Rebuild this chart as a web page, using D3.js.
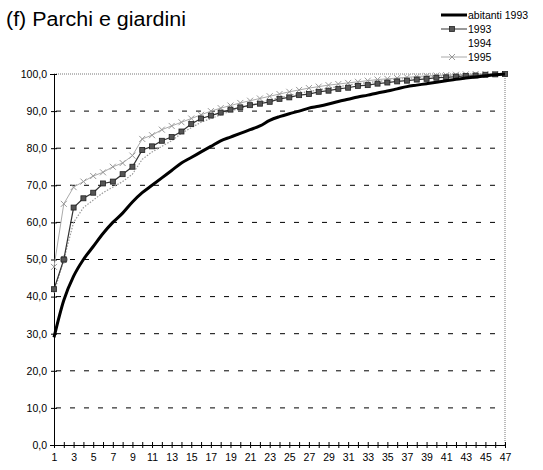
<!DOCTYPE html>
<html>
<head>
<meta charset="utf-8">
<script src="https://cdn.jsdelivr.net/npm/d3@7"></script>
<style>
  body { margin: 0; background: #fff; }
  svg { font-family: Arial, "Liberation Sans", sans-serif; }
</style>
</head>
<body>
<div id="chart"></div>
<script>
// Categories (1..47) and cumulative percentages
let categories = d3.range(1, 48);

let abitanti1993 = [29, 39, 45.5, 50, 53.5, 57, 60, 62.5, 65.5, 68,
    70, 72, 74, 76, 77.5, 79, 80.5, 82, 83, 84,
    85, 86, 87.5, 88.5, 89.3, 90, 90.8, 91.3, 91.9, 92.6,
    93.2, 93.8, 94.3, 94.9, 95.4, 96, 96.6, 97, 97.4, 97.8,
    98.2, 98.6, 98.9, 99.2, 99.5, 99.8, 100];

let y1993 = [42, 50, 64, 66.5, 68, 70.5, 71, 73, 75, 79.5,
    80.5, 82, 83, 84.5, 86.5, 88, 88.8, 89.6, 90.4, 91,
    91.6, 92, 92.5, 93.3, 93.7, 94.3, 94.6, 95.2, 95.5, 96,
    96.3, 96.8, 97, 97.4, 97.7, 98, 98.2, 98.5, 98.7, 99,
    99.1, 99.3, 99.5, 99.6, 99.8, 99.9, 100];

let y1994 = [41, 50, 60, 64, 66, 68, 69.5, 71, 73, 77,
    79, 80.5, 82, 84, 85.5, 87, 88, 89, 90, 90.8,
    91.5, 92.3, 93, 93.6, 94.2, 94.8, 95.3, 95.7, 96.2, 96.6,
    97, 97.4, 97.7, 98, 98.3, 98.6, 98.8, 99, 99.2, 99.4,
    99.5, 99.6, 99.7, 99.8, 99.9, 100, 100];

let y1995 = [48, 65, 69.5, 71, 72.5, 73.5, 75, 76, 78, 82.5,
    83.5, 85, 86, 87, 88, 89, 90, 90.8, 91.5, 92.2,
    92.8, 93.4, 94, 94.6, 95.2, 95.7, 96.2, 96.6, 97, 97.3,
    97.6, 97.9, 98.2, 98.5, 98.7, 98.9, 99.1, 99.3, 99.5, 99.6,
    99.7, 99.8, 99.9, 100, 100, 100, 100];

let yTicks = [0, 10, 20, 30, 40, 50, 60, 70, 80, 90, 100];
let legendLabels = ["abitanti 1993", "1993", "1994", "1995"];

// Size of the page
var width = 543;
var height = 470;
var plotLeft = 54, plotRight = 505, plotTop = 74, plotBottom = 445;

var svg = d3.select("#chart")
    .append("svg")
    .attr("width", width)
    .attr("height", height);

var x = d3.scaleLinear().domain([1, 47]).range([plotLeft, plotRight]);
var y = d3.scaleLinear().domain([0, 100]).range([plotBottom, plotTop]);

// Title
svg.append("text")
    .attr("x", 6)
    .attr("y", 26)
    .attr("textLength", 180)
    .attr("lengthAdjust", "spacingAndGlyphs")
    .style("font-size", "20px")
    .text("(f) Parchi e giardini");

// Plot border (top and right dotted)
svg.append("line")
    .attr("x1", plotLeft).attr("x2", plotRight)
    .attr("y1", plotTop).attr("y2", plotTop)
    .attr("stroke", "#777").attr("stroke-dasharray", "1,1");
svg.append("line")
    .attr("x1", plotRight).attr("x2", plotRight)
    .attr("y1", plotTop).attr("y2", plotBottom)
    .attr("stroke", "#777").attr("stroke-dasharray", "1,1");

// Dashed grid lines
svg.selectAll("line.grid")
    .data(yTicks.filter(d => d > 0 && d < 100))
    .enter()
    .append("line")
    .attr("class", "grid")
    .attr("x1", plotLeft + 2).attr("x2", plotRight - 2)
    .attr("y1", d => y(d)).attr("y2", d => y(d))
    .attr("stroke", "#000")
    .attr("stroke-width", 1)
    .attr("stroke-dasharray", "5,9");

// Y axis
var yAxis = d3.axisLeft(y)
    .tickValues(yTicks)
    .tickSize(4)
    .tickFormat(d => d3.format(".1f")(d).replace(".", ","));
var gy = svg.append("g")
    .attr("transform", "translate(" + plotLeft + ",0)")
    .call(yAxis);
gy.select(".domain").attr("stroke", "#000");
gy.selectAll(".tick line").attr("x2", 3).attr("x1", -3);
gy.selectAll(".tick text")
    .attr("x", -7)
    .style("font-size", "10.5px")
    .style("font-family", "Arial, 'Liberation Sans', sans-serif")
    .attr("fill", "#000");

// X axis
var xAxis = d3.axisBottom(x)
    .tickValues(categories)
    .tickSize(3)
    .tickFormat(d => d % 2 === 1 ? d : "");
var gx = svg.append("g")
    .attr("transform", "translate(0," + plotBottom + ")")
    .call(xAxis);
gx.select(".domain").attr("stroke", "#000");
gx.selectAll(".tick line").attr("y1", -3).attr("y2", 3);
gx.selectAll(".tick text")
    .attr("y", 9)
    .style("font-size", "10.5px")
    .style("font-family", "Arial, 'Liberation Sans', sans-serif")
    .attr("fill", "#000");

var line = d3.line()
    .x((d, i) => x(categories[i]))
    .y(d => y(d));

// 1994 dotted light line
svg.append("path")
    .datum(y1994)
    .attr("d", line)
    .attr("fill", "none")
    .attr("stroke", "#999")
    .attr("stroke-width", 1.2)
    .attr("stroke-dasharray", "1.5,1.5");
svg.append("circle")
    .attr("cx", x(categories[1])).attr("cy", y(y1994[1]))
    .attr("r", 3.5)
    .attr("fill", "#fff").attr("stroke", "#888");

// 1995 light gray with x markers
svg.append("path")
    .datum(y1995)
    .attr("d", line)
    .attr("fill", "none")
    .attr("stroke", "#aaa")
    .attr("stroke-width", 1);
svg.selectAll("path.m95")
    .data(y1995)
    .enter()
    .append("path")
    .attr("class", "m95")
    .attr("d", (d, i) => {
        let cx = x(categories[i]), cy = y(d), s = 3;
        return "M" + (cx - s) + "," + (cy - s) + "L" + (cx + s) + "," + (cy + s) +
            "M" + (cx - s) + "," + (cy + s) + "L" + (cx + s) + "," + (cy - s);
    })
    .attr("stroke", "#999")
    .attr("stroke-width", 1);

// 1993 dark with square markers
svg.append("path")
    .datum(y1993)
    .attr("d", line)
    .attr("fill", "none")
    .attr("stroke", "#333")
    .attr("stroke-width", 1.2);
svg.selectAll("rect.m93")
    .data(y1993)
    .enter()
    .append("rect")
    .attr("class", "m93")
    .attr("x", (d, i) => x(categories[i]) - 2.5)
    .attr("y", d => y(d) - 2.5)
    .attr("width", 5).attr("height", 5)
    .attr("fill", "#555")
    .attr("stroke", "#222")
    .attr("stroke-width", 0.8);

// abitanti 1993 thick black
svg.append("path")
    .datum(abitanti1993)
    .attr("d", d3.line().curve(d3.curveMonotoneX)
        .x((d, i) => x(categories[i]))
        .y(d => y(d)))
    .attr("fill", "none")
    .attr("stroke", "#000")
    .attr("stroke-width", 3);

// Legend
var legend = svg.append("g");
var legendY = [15, 29, 43, 57];
legendLabels.forEach((lab, i) => {
    let ly = legendY[i];
    legend.append("text")
        .attr("x", 468)
        .attr("y", ly + 4)
        .style("font-size", "10.5px")
        .text(lab);
});
legend.append("line")
    .attr("x1", 441).attr("x2", 467)
    .attr("y1", legendY[0]).attr("y2", legendY[0])
    .attr("stroke", "#000").attr("stroke-width", 3);
legend.append("line")
    .attr("x1", 441).attr("x2", 467)
    .attr("y1", legendY[1]).attr("y2", legendY[1])
    .attr("stroke", "#333").attr("stroke-width", 1);
legend.append("rect")
    .attr("x", 449.5).attr("y", legendY[1] - 2.5)
    .attr("width", 5).attr("height", 5)
    .attr("fill", "#555").attr("stroke", "#222").attr("stroke-width", 0.8);
legend.append("line")
    .attr("x1", 441).attr("x2", 467)
    .attr("y1", legendY[3]).attr("y2", legendY[3])
    .attr("stroke", "#aaa").attr("stroke-width", 1);
legend.append("path")
    .attr("d", "M449," + (legendY[3] - 3) + "L455," + (legendY[3] + 3) +
        "M449," + (legendY[3] + 3) + "L455," + (legendY[3] - 3))
    .attr("stroke", "#999");
</script>
</body>
</html>
